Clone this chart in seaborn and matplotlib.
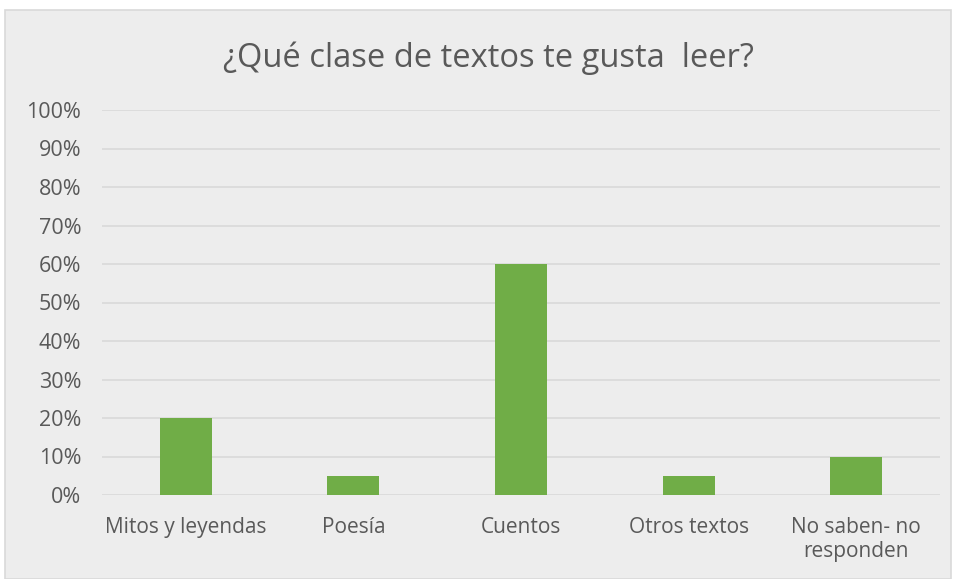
import matplotlib
matplotlib.use("Agg")
import matplotlib.pyplot as plt
import seaborn as sns
import pandas as pd
from matplotlib.patches import Rectangle
from matplotlib.ticker import PercentFormatter

categories = ["Mitos y leyendas", "Poesía", "Cuentos", "Otros textos", "No saben- no\nresponden"]
values = [20, 5, 60, 5, 10]
title = "¿Qué clase de textos te gusta  leer?"
yticks = list(range(0, 101, 10))

df = pd.DataFrame({"cat": categories, "val": values})

sns.set_theme(style="white")
plt.rcParams['font.family'] = ['Open Sans', 'DejaVu Sans']

W, H = 956, 579
fig = plt.figure(figsize=(W/100, H/100), dpi=100)
fig.patch.set_facecolor("white")
bg = "#EDEDED"
fig.patches.append(Rectangle((5/W, 0), (951-5)/W, (579-10)/H, transform=fig.transFigure,
                             facecolor=bg, edgecolor="#D9D9D9", linewidth=1.2, zorder=-10))

ax = fig.add_axes([102/W, 1-495/H, 838/W, 385/H])
ax.set_facecolor(bg)
ax.patch.set_alpha(0)
sns.barplot(data=df, x="cat", y="val", color="#70AD47", width=0.31, saturation=1,
            linewidth=0, ax=ax, zorder=3)
ax.set_ylim(0, 100)
ax.set_xlim(-0.5, 4.5)
ax.set_yticks(yticks)
ax.yaxis.set_major_formatter(PercentFormatter(decimals=0))
ax.grid(axis="y", color="#D9D9D9", linewidth=1.2, zorder=0)
ax.set_axisbelow(True)
for s in ax.spines.values():
    s.set_visible(False)
ax.set_xlabel("")
ax.set_ylabel("")
ax.tick_params(axis="y", length=0, labelsize=15.5, colors="#595959", pad=15)
ax.tick_params(axis="x", length=0, labelsize=15, colors="#595959", pad=16)
for t in ax.get_xticklabels():
    t.set_linespacing(1.15)
fig.text(488/W, 1-58/H, title, ha="center", va="center", fontsize=23.5, color="#595959")
fig.savefig("out.png", dpi=100, facecolor="white")
